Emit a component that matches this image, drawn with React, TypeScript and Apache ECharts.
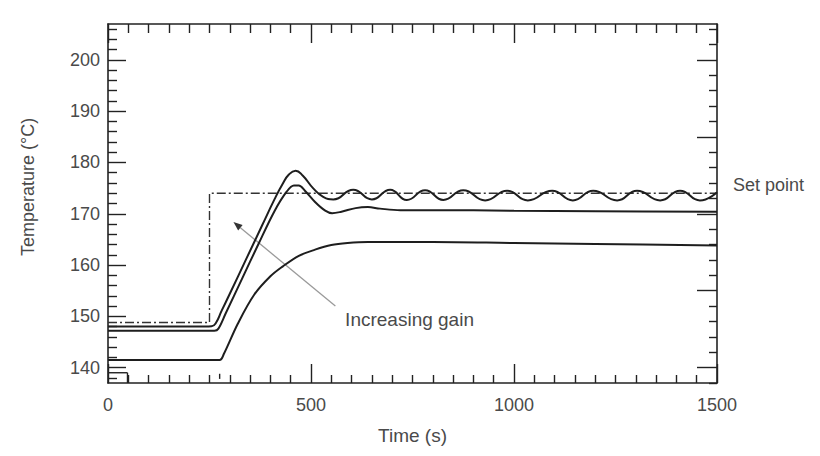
import React, { useEffect, useRef } from "react";
import * as echarts from "echarts";

// ---- Data ----
const setTimes = [0, 250, 250, 1500];
const setTemps = [148.8, 148.8, 174.0, 174.0];

const timesA = [0, 240, 255, 265, 280, 300, 340, 380, 410, 430, 445, 462, 480, 505, 530, 555, 604, 650, 695, 736, 781, 826, 875, 929, 983, 1034, 1094, 1145, 1195, 1254, 1303, 1360, 1409, 1458, 1500];
const tempsA = [148.0, 148.0, 148.05, 148.6, 151.1, 154.4, 161.1, 167.8, 172.8, 175.8, 177.6, 178.4, 177.4, 175.0, 173.3, 172.8, 174.7, 172.8, 174.7, 172.7, 174.6, 172.7, 174.6, 172.6, 174.5, 172.6, 174.5, 172.6, 174.5, 172.6, 174.5, 172.6, 174.5, 172.6, 174.2];

const timesB = [0, 262, 272, 290, 330, 370, 410, 440, 458, 470, 485, 510, 535, 552, 575, 610, 640, 670, 720, 800, 1000, 1200, 1500];
const tempsB = [147.2, 147.2, 147.6, 150.6, 157.3, 164.0, 170.5, 174.3, 175.5, 175.5, 174.5, 172.3, 170.6, 170.1, 170.4, 171.1, 171.3, 171.0, 170.7, 170.7, 170.6, 170.5, 170.4];

const timesC = [0, 275, 285, 320, 360, 400, 430, 470, 510, 550, 590, 640, 800, 1000, 1200, 1500];
const tempsC = [141.5, 141.5, 142.6, 148.6, 154.2, 157.8, 159.7, 161.8, 163.0, 163.9, 164.3, 164.5, 164.5, 164.3, 164.1, 163.8];

const xTicks = [0, 500, 1000, 1500];
const yMajorLeft = [140, 150, 160, 170, 180, 190, 200];
const yMinorLeft = [138, 142, 144, 146, 148, 152, 154, 156, 158, 162, 164, 166, 168, 172, 174, 176, 178, 182, 184, 186, 188, 192, 194, 196, 198, 202, 204, 206];
const yMajorRight = [140, 155, 170, 185, 200];
const yMinorRight = [137, 143, 146, 149, 152, 158, 161, 164, 167, 173, 176, 179, 182, 188, 191, 194, 197, 203, 206];

const zip = (t: number[], v: number[]) => t.map((x, i) => [x, v[i]]);

const FONT = "'Liberation Sans', Arial, Helvetica, sans-serif";
const TXT = "#4a4a4a";
const INK = "#1e1e1e";

export default function App() {
  const ref = useRef<HTMLDivElement>(null);
  useEffect(() => {
    if (!ref.current) return;
    const chart = echarts.init(ref.current, undefined, { renderer: "svg" });
    const axisLine = { show: true, lineStyle: { color: "#222", width: 1.6 } };
    const curve = (name: string, data: number[][], smooth: number) => ({
      name,
      type: "line",
      data,
      smooth,
      showSymbol: false,
      symbol: "none",
      lineStyle: { color: INK, width: 2 },
      xAxisIndex: 0,
      yAxisIndex: 0,
      z: 3,
    });
    const yBase = {
      type: "value",
      min: 137,
      max: 207,
      splitLine: { show: false },
      axisLine: { show: false },
    };
    const tickStyle = { color: "#222", width: 1.4 };
    chart.setOption({
      animation: false,
      backgroundColor: "#ffffff",
      textStyle: { fontFamily: FONT },
      grid: { left: 108, right: 103, top: 24, bottom: 73 },
      xAxis: [
        {
          type: "value",
          position: "bottom",
          min: 0,
          max: 1500,
          interval: 500,
          axisLine,
          axisTick: { show: true, inside: true, length: 19, lineStyle: tickStyle },
          minorTick: { show: true, splitNumber: 10, length: 8, lineStyle: tickStyle },
          splitLine: { show: false },
          axisLabel: {
            show: true,
            margin: 13,
            fontSize: 18,
            color: TXT,
            fontFamily: FONT,
            customValues: xTicks,
            formatter: (v: number) => String(v),
          },
          name: "Time (s)",
          nameLocation: "middle",
          nameGap: 43,
          nameTextStyle: { fontSize: 19, color: TXT, fontFamily: FONT },
        },
        {
          type: "value",
          position: "top",
          min: 0,
          max: 1500,
          interval: 500,
          axisLine,
          axisTick: { show: true, inside: true, length: 19, lineStyle: tickStyle },
          minorTick: { show: true, splitNumber: 10, length: 9, lineStyle: tickStyle },
          splitLine: { show: false },
          axisLabel: { show: false },
        },
      ],
      yAxis: [
        {
          ...yBase,
          position: "left",
          axisLine,
          axisTick: { show: true, inside: true, length: 18, customValues: yMajorLeft, lineStyle: tickStyle },
          axisLabel: { show: true, margin: 8, fontSize: 18, color: TXT, fontFamily: FONT, customValues: yMajorLeft },
        },
        {
          ...yBase,
          position: "left",
          axisTick: { show: true, inside: true, length: 9, customValues: yMinorLeft, lineStyle: tickStyle },
          axisLabel: { show: false },
        },
        {
          ...yBase,
          position: "right",
          axisLine,
          axisTick: { show: true, inside: true, length: 20, customValues: yMajorRight, lineStyle: tickStyle },
          axisLabel: { show: false },
        },
        {
          ...yBase,
          position: "right",
          axisTick: { show: true, inside: true, length: 8, customValues: yMinorRight, lineStyle: tickStyle },
          axisLabel: { show: false },
        },
      ],
      series: [
        {
          name: "Set point",
          type: "line",
          data: zip(setTimes, setTemps),
          showSymbol: false,
          symbol: "none",
          lineStyle: { color: "#333", width: 1.4, type: [9, 3, 2, 3] },
          xAxisIndex: 0,
          yAxisIndex: 0,
          z: 2,
        },
        curve("High gain", zip(timesA, tempsA), 0.5),
        curve("Medium gain", zip(timesB, tempsB), 0.35),
        curve("Low gain", zip(timesC, tempsC), 0.35),
      ],
    });

    const px = (t: number, v: number) =>
      chart.convertToPixel({ xAxisIndex: 0, yAxisIndex: 0 }, [t, v]) as number[];
    const head = px(309, 168.4);
    const tail = px(560, 152.0);
    const dx = head[0] - tail[0];
    const dy = head[1] - tail[1];
    const len = Math.hypot(dx, dy);
    const ux = dx / len;
    const uy = dy / len;
    const bx = head[0] - ux * 9;
    const by = head[1] - uy * 9;
    const pxn = -uy * 3.5;
    const pyn = ux * 3.5;
    const gainPos = px(584, 149.3);
    const corner = px(0, 137);
    const boxTop = px(48, 139);
    const markTop = px(275, 138.8);
    const markBot = px(275, 137.8);

    chart.setOption({
      graphic: [
        {
          type: "line",
          shape: { x1: tail[0], y1: tail[1], x2: bx, y2: by },
          style: { stroke: "#9a9a9a", lineWidth: 1.3 },
        },
        {
          type: "polygon",
          shape: { points: [[head[0], head[1]], [bx + pxn, by + pyn], [bx - pxn, by - pyn]] },
          style: { fill: "#333" },
        },
        {
          type: "line",
          shape: { x1: corner[0], y1: boxTop[1], x2: boxTop[0], y2: boxTop[1] },
          style: { stroke: "#222", lineWidth: 1.4 },
        },
        {
          type: "line",
          shape: { x1: boxTop[0], y1: boxTop[1], x2: boxTop[0], y2: corner[1] },
          style: { stroke: "#222", lineWidth: 1.4 },
        },
        {
          type: "line",
          shape: { x1: markTop[0], y1: markTop[1], x2: markBot[0], y2: markBot[1] },
          style: { stroke: "#222", lineWidth: 1.4 },
        },
        {
          type: "text",
          x: gainPos[0],
          y: gainPos[1],
          style: { text: "Increasing gain", fontSize: 19, fill: TXT, fontFamily: FONT, textAlign: "left", textVerticalAlign: "middle" },
        },
        {
          type: "text",
          x: 733,
          y: 185,
          style: { text: "Set point", fontSize: 18, fill: TXT, fontFamily: FONT, textAlign: "left", textVerticalAlign: "middle" },
        },
        {
          type: "text",
          x: 28,
          y: 187,
          rotation: Math.PI / 2,
          style: { text: "Temperature (°C)", fontSize: 18, fill: TXT, fontFamily: FONT, textAlign: "center", textVerticalAlign: "middle" },
        },
      ],
    });

    return () => chart.dispose();
  }, []);
  return (
    <div
      ref={ref}
      style={{ position: "fixed", left: 0, top: 0, width: 820, height: 456, background: "#fff" }}
    />
  );
}
